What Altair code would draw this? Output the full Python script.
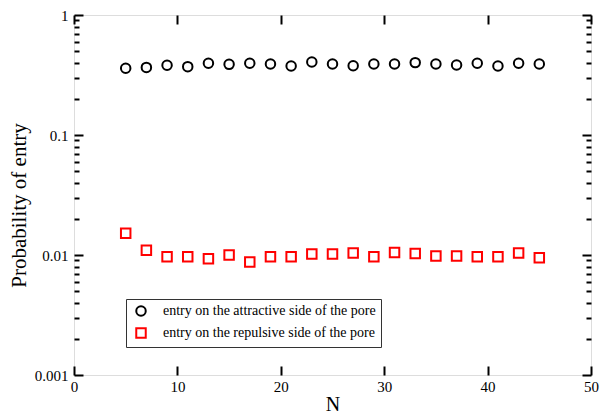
import altair as alt
import pandas as pd

N = [5, 7, 9, 11, 13, 15, 17, 19, 21, 23, 25, 27, 29, 31, 33, 35, 37, 39, 41, 43, 45]
attractive = [0.360, 0.366, 0.381, 0.371, 0.396, 0.388, 0.396, 0.391, 0.376, 0.406, 0.391,
              0.378, 0.391, 0.391, 0.401, 0.391, 0.383, 0.396, 0.376, 0.396, 0.391]
repulsive = [0.0152, 0.01094, 0.00968, 0.00968, 0.00931, 0.0100, 0.00874, 0.00968, 0.00968, 0.0102, 0.0102,
             0.0104, 0.00968, 0.0105, 0.0103, 0.0098, 0.0098, 0.00968, 0.00968, 0.0104, 0.0095]
series_names = ["entry on the attractive side of the pore",
                "entry on the repulsive side of the pore"]

x_ticks = [0, 10, 20, 30, 40, 50]
y_major = [0.001, 0.01, 0.1, 1]
y_all = [m * d for d in [0.001, 0.01, 0.1] for m in range(1, 10)] + [1]

rows = []
for n, a, r in zip(N, attractive, repulsive):
    rows.append({"N": n, "p": a, "series": series_names[0]})
    rows.append({"N": n, "p": r, "series": series_names[1]})
df = pd.DataFrame(rows)

W, H = 517, 360
FONT = "Liberation Serif"
xscale = alt.Scale(domain=[0, 50], nice=False, zero=False)
yscale = alt.Scale(type="log", domain=[0.001, 1], nice=False)

major_test = "abs(log(datum.value)/LN10 - round(log(datum.value)/LN10)) < 1e-6"
tsize = {"condition": {"test": major_test, "value": 9}, "value": 5}

base = alt.Chart(df)

points = base.mark_point(filled=False, strokeWidth=2, size=90, opacity=1).encode(
    x=alt.X("N:Q", scale=xscale,
            axis=alt.Axis(orient="bottom", values=x_ticks, ticks=False, domain=False, grid=False,
                          labelPadding=4, labelFontSize=15, labelFont=FONT, labelColor="black",
                          labelFlush=False, title="N", titleFont=FONT, titleFontSize=20,
                          titleFontWeight="normal", titlePadding=0, titleColor="black")),
    y=alt.Y("p:Q", scale=yscale,
            axis=alt.Axis(orient="left", values=y_major, format="~g", ticks=False, domain=False,
                          grid=False, labelPadding=6, labelFontSize=15, labelFont=FONT,
                          labelColor="black", labelFlush=False, title="Probability of entry",
                          titleFont=FONT, titleFontSize=21, titleFontWeight="normal",
                          titlePadding=5, titleColor="black", titleY=190)),
    color=alt.Color("series:N", scale=alt.Scale(domain=series_names, range=["black", "#ff0000"]),
                    legend=alt.Legend(title=None, orient="none", legendX=52, legendY=284,
                                      padding=5, strokeColor="#333", labelFont=FONT,
                                      labelFontSize=14, labelColor="black", symbolSize=90,
                                      symbolStrokeWidth=2, labelOffset=15, rowPadding=4,
                                      symbolOffset=3, labelLimit=400)),
    shape=alt.Shape("series:N", scale=alt.Scale(domain=series_names, range=["circle", "square"]),
                    legend=None),
)

ghost1 = base.mark_point(opacity=0).encode(
    x=alt.X("N:Q", scale=xscale,
            axis=alt.Axis(orient="top", offset=-H, values=x_ticks, labels=False, domain=False,
                          grid=False, tickSize=9, tickWidth=2, tickColor="black", title="")),
    y=alt.Y("p:Q", scale=yscale,
            axis=alt.Axis(orient="right", offset=-W, values=y_all, labels=False, domain=False,
                          grid=False, tickSize=tsize, tickWidth=2, tickColor="black", title="")),
)

ghost2 = base.mark_point(opacity=0).encode(
    x=alt.X("N:Q", scale=xscale,
            axis=alt.Axis(orient="bottom", offset=-H, values=x_ticks, labels=False, domain=False,
                          grid=False, tickSize=9, tickWidth=2, tickColor="black", title="")),
    y=alt.Y("p:Q", scale=yscale,
            axis=alt.Axis(orient="left", offset=-W, values=y_all, labels=False, domain=False,
                          grid=False, tickSize=tsize, tickWidth=2, tickColor="black", title="")),
)

chart = alt.layer(ghost1, ghost2, points).resolve_scale(
    x="shared", y="shared"
).resolve_axis(
    x="independent", y="independent"
).properties(
    width=W, height=H,
    autosize=alt.AutoSizeParams(type="none"),
    padding={"left": 74, "top": 15, "right": 15, "bottom": 38},
).configure_view(
    stroke="black", strokeWidth=2
).configure(background="white")

chart.save("out.html", embed_options={"renderer": "svg", "actions": False})
